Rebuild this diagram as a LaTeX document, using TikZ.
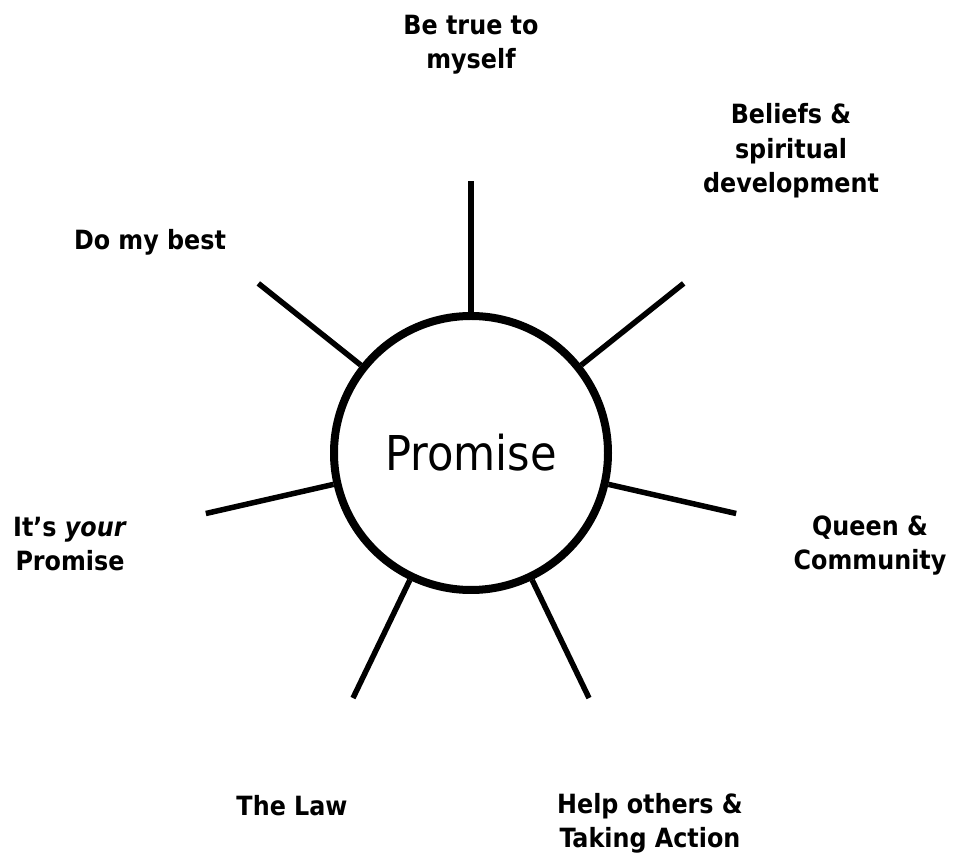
\documentclass[tikz,border=0pt]{standalone}
\usepackage{fontspec}
\setmainfont{DejaVu Sans Condensed}
\usetikzlibrary{positioning}

\tikzset{
    spoke/.style={line width=5.5pt},
    topic/.style={align=center, anchor=base, inner sep=0pt,
        font=\bfseries\fontsize{26.5}{34.5}\selectfont},
}

\begin{document}
\begin{tikzpicture}[x=1pt, y=1pt]
    \useasboundingbox[fill=white] (0,0) rectangle (954,860);
    \node[circle, draw, line width=8pt, minimum size=274pt, inner sep=0pt,
          font=\fontsize{48}{57}\selectfont] (hub) at (471,407) {Promise};
    % seven spokes, evenly spread
    \foreach \k [evaluate=\k as \a using 90+\k*360/7] in {0,...,6} {
        \path (hub.center) ++(\a:272) coordinate (tip\k);
        \draw[spoke] (hub) -- (tip\k);
    }
    \node[topic] (true) at (471,791) {Be true to\\myself};
    \node[topic] (beliefs) at (791,667) {Beliefs \&\\spiritual\\development};
    \node[topic] (best) at (150,610) {Do my best};
    \node[topic] (yours) at (70,289) {It’s \textit{your}\\Promise};
    \node[topic] (queen) at (870,290) {Queen \&\\Community};
    \node[topic] (law) at (292,44) {The Law};
    \node[topic] (help) at (650,12) {Help others \&\\Taking Action};
\end{tikzpicture}
\end{document}
